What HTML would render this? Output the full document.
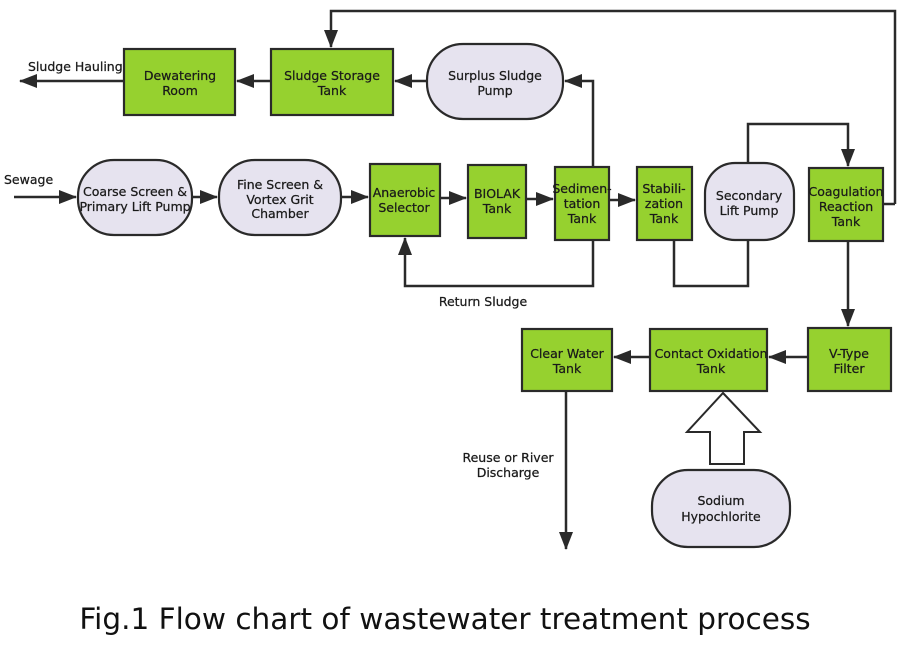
<!DOCTYPE html>
<html><head><meta charset="utf-8"><style>
html,body{margin:0;padding:0;background:#fff;width:900px;height:650px;overflow:hidden}
text{font-family:"DejaVu Sans","Liberation Sans",sans-serif;font-size:12.5px;fill:#1a1a1a;stroke:#1a1a1a;stroke-width:0.25}
.g{fill:#96d12f;stroke:#2a2a2a;stroke-width:2.2}
.p{fill:#e6e3ef;stroke:#2a2a2a;stroke-width:2.2}
.l{fill:none;stroke:#2a2a2a;stroke-width:2.5}
</style></head><body>
<svg width="900" height="650" viewBox="0 0 900 650">
<defs>
<marker id="b" markerWidth="18" markerHeight="14" refX="17" refY="7" orient="auto" markerUnits="userSpaceOnUse"><path d="M0,0 L18,7 L0,14z" fill="#2a2a2a"/></marker></defs>

<path class="l" d="M895,204 L895,11 L331,11 L331,47" marker-end="url(#b)"/>
<line class="l" x1="883" y1="204" x2="895" y2="204"/>
<line class="l" x1="427" y1="81" x2="395" y2="81" marker-end="url(#b)"/>
<line class="l" x1="271" y1="81" x2="237" y2="81" marker-end="url(#b)"/>
<line class="l" x1="124" y1="81" x2="20" y2="81" marker-end="url(#b)"/>
<line class="l" x1="14" y1="197" x2="76" y2="197" marker-end="url(#b)"/>
<line class="l" x1="192" y1="197" x2="217" y2="197" marker-end="url(#b)"/>
<line class="l" x1="341" y1="197" x2="368" y2="197" marker-end="url(#b)"/>
<line class="l" x1="440" y1="198" x2="466" y2="198" marker-end="url(#b)"/>
<line class="l" x1="526" y1="199" x2="553" y2="199" marker-end="url(#b)"/>
<line class="l" x1="609" y1="200" x2="635" y2="200" marker-end="url(#b)"/>
<path class="l" d="M593,167 L593,81 L565,81" marker-end="url(#b)"/>
<path class="l" d="M593,240 L593,286 L405,286 L405,238" marker-end="url(#b)"/>
<path class="l" d="M674,240 L674,286 L748,286 L748,240"/>
<path class="l" d="M748,163 L748,124 L848,124 L848,166" marker-end="url(#b)"/>
<line class="l" x1="848" y1="241" x2="848" y2="326" marker-end="url(#b)"/>
<line class="l" x1="808" y1="357" x2="769" y2="357" marker-end="url(#b)"/>
<line class="l" x1="650" y1="357" x2="614" y2="357" marker-end="url(#b)"/>
<line class="l" x1="566" y1="391" x2="566" y2="549" marker-end="url(#b)"/>
<path d="M723,393 L760,432 L744,432 L744,464 L710,464 L710,432 L687,432 Z" fill="#fff" stroke="#2a2a2a" stroke-width="2"/>

<rect class="g" x="124" y="49" width="111" height="66"/>
<text x="180" y="80" text-anchor="middle">Dewatering</text><text x="180" y="95" text-anchor="middle">Room</text>
<rect class="g" x="271" y="49" width="122" height="66"/>
<text x="332" y="80" text-anchor="middle">Sludge Storage</text><text x="332" y="95" text-anchor="middle">Tank</text>
<rect class="p" x="427" y="44" width="136" height="75" rx="36"/>
<text x="495" y="80" text-anchor="middle">Surplus Sludge</text><text x="495" y="95" text-anchor="middle">Pump</text>
<text x="28" y="71">Sludge Hauling</text>
<text x="4" y="184">Sewage</text>
<rect class="p" x="78" y="160" width="114" height="75" rx="36"/>
<text x="135" y="196" text-anchor="middle">Coarse Screen &amp;</text><text x="135" y="211" text-anchor="middle">Primary Lift Pump</text>
<rect class="p" x="219" y="160" width="122" height="75" rx="36"/>
<text x="280" y="189" text-anchor="middle">Fine Screen &amp;</text><text x="280" y="204" text-anchor="middle">Vortex Grit</text><text x="280" y="218" text-anchor="middle">Chamber</text>
<rect class="g" x="370" y="164" width="70" height="72"/>
<text x="404" y="197" text-anchor="middle">Anaerobic</text><text x="404" y="212" text-anchor="middle">Selector</text>
<rect class="g" x="468" y="165" width="58" height="73"/>
<text x="497" y="198" text-anchor="middle">BIOLAK</text><text x="497" y="213" text-anchor="middle">Tank</text>
<rect class="g" x="555" y="167" width="54" height="73"/>
<text x="582" y="193" text-anchor="middle">Sedimen-</text><text x="582" y="208" text-anchor="middle">tation</text><text x="582" y="223" text-anchor="middle">Tank</text>
<rect class="g" x="637" y="167" width="55" height="73"/>
<text x="664" y="193" text-anchor="middle">Stabili-</text><text x="664" y="208" text-anchor="middle">zation</text><text x="664" y="223" text-anchor="middle">Tank</text>
<rect class="p" x="705" y="163" width="89" height="77" rx="30"/>
<text x="749" y="200" text-anchor="middle">Secondary</text><text x="749" y="215" text-anchor="middle">Lift Pump</text>
<rect class="g" x="809" y="168" width="74" height="73"/>
<text x="846" y="196" text-anchor="middle">Coagulation</text><text x="846" y="211" text-anchor="middle">Reaction</text><text x="846" y="226" text-anchor="middle">Tank</text>
<text x="483" y="306" text-anchor="middle">Return Sludge</text>
<rect class="g" x="808" y="328" width="83" height="63"/>
<text x="849" y="358" text-anchor="middle">V-Type</text><text x="849" y="373" text-anchor="middle">Filter</text>
<rect class="g" x="650" y="329" width="117" height="62"/>
<text x="711" y="358" text-anchor="middle">Contact Oxidation</text><text x="711" y="373" text-anchor="middle">Tank</text>
<rect class="g" x="522" y="329" width="90" height="62"/>
<text x="567" y="358" text-anchor="middle">Clear Water</text><text x="567" y="373" text-anchor="middle">Tank</text>
<text x="508" y="462" text-anchor="middle">Reuse or River</text><text x="508" y="477" text-anchor="middle">Discharge</text>
<rect class="p" x="652" y="470" width="138" height="77" rx="36"/>
<text x="721" y="505" text-anchor="middle">Sodium</text><text x="721" y="521" text-anchor="middle">Hypochlorite</text>
<text x="445" y="629" text-anchor="middle" style="font-size:29.5px;fill:#111;stroke:none">Fig.1 Flow chart of wastewater treatment process</text>
</svg>
</body></html>
